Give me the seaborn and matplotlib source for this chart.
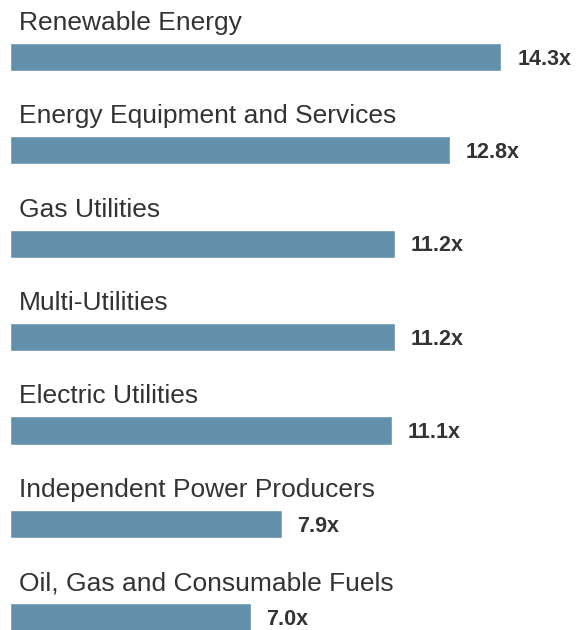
import matplotlib
matplotlib.use("Agg")
import matplotlib.pyplot as plt
import seaborn as sns
import pandas as pd

categories = ["Renewable Energy", "Energy Equipment and Services", "Gas Utilities",
              "Multi-Utilities", "Electric Utilities", "Independent Power Producers",
              "Oil, Gas and Consumable Fuels"]
values = [14.3, 12.8, 11.2, 11.2, 11.1, 7.9, 7.0]
value_labels = ["14.3x", "12.8x", "11.2x", "11.2x", "11.1x", "7.9x", "7.0x"]

sns.set_style("white")
plt.rcParams["font.family"] = ["Liberation Sans", "DejaVu Sans"]

df = pd.DataFrame({"sector": categories, "multiple": values})

fig = plt.figure(figsize=(5.78, 6.30), dpi=100)
ax = fig.add_axes([0, 0, 1, 1])

sns.barplot(data=df, x="multiple", y="sector", orient="h", color="#6390aa",
            saturation=1, width=0.303, ax=ax)

# px -> data: 10px is zero, 34.37 px per unit; rows 93.43 px apart
ax.set_xlim(-10 / 34.37, 568 / 34.37)
ax.set_ylim(6.134, -0.609)

for i, (cat, v, lab) in enumerate(zip(categories, values, value_labels)):
    ax.text(0.27, i - 0.291, cat, ha="left", va="baseline",
            fontsize=19, color="#333333")
    ax.text(v + 0.46, i + 0.082, lab, ha="left", va="baseline",
            fontsize=15.5, fontweight="bold", color="#333333")

ax.axis("off")
fig.savefig("out.png", dpi=100)
